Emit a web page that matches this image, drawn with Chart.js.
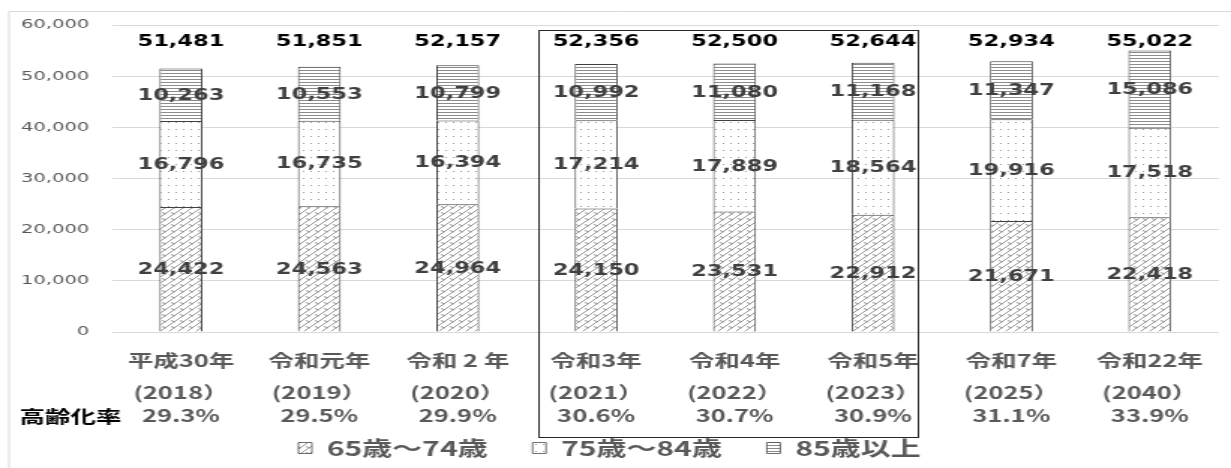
<!DOCTYPE html>
<html>
<head>
<meta charset="utf-8">
<script src="https://cdn.jsdelivr.net/npm/chart.js@4/dist/chart.umd.min.js"></script>
<style>
  html, body { margin: 0; padding: 0; background: #fff; overflow: hidden; }
</style>
</head>
<body>
<!-- the picture is drawn narrow and stretched sideways, like the source image -->
<canvas id="chart" width="821" height="468" style="display:block;width:1231px;height:468px"></canvas>
<script>
// 区分（年度）
const categories = [
    ['平成30年', '(2018）'],
    ['令和元年', '(2019）'],
    ['令和 2 年', '(2020）'],
    ['令和3年', '(2021）'],
    ['令和4年', '(2022）'],
    ['令和5年', '(2023）'],
    ['令和7年', '(2025）'],
    ['令和22年', '(2040）']
];
// 年齢別人数
const age65to74 = [24422, 24563, 24964, 24150, 23531, 22912, 21671, 22418];
const age75to84 = [16796, 16735, 16394, 17214, 17889, 18564, 19916, 17518];
const age85plus = [10263, 10553, 10799, 10992, 11080, 11168, 11347, 15086];
const totals = [51481, 51851, 52157, 52356, 52500, 52644, 52934, 55022];
// 高齢化率
const agingRates = ['29.3%', '29.5%', '29.9%', '30.6%', '30.7%', '30.9%', '31.1%', '33.9%'];
const yTicks = [0, 10000, 20000, 30000, 40000, 50000, 60000];

const GRAY_TEXT = '#595959';
const JP_FONT = '"Noto Sans CJK JP", "Noto Sans", sans-serif';
const NUM_FONT = '"DejaVu Sans", sans-serif';

// 塗りつぶしパターン
function makePattern(w, h, draw) {
    const c = document.createElement('canvas');
    c.width = w;
    c.height = h;
    const g = c.getContext('2d');
    g.fillStyle = '#fff';
    g.fillRect(0, 0, w, h);
    draw(g);
    return g.createPattern(c, 'repeat');
}

const hatchPattern = makePattern(6, 6, g => {
    g.strokeStyle = '#8c8c8c';
    g.lineWidth = 0.9;
    g.beginPath();
    g.moveTo(-1, 7); g.lineTo(7, -1);
    g.moveTo(0, 2.5); g.lineTo(3, 4);
    g.stroke();
});
const dotPattern = makePattern(5, 7, g => {
    g.fillStyle = '#9a9a9a';
    g.fillRect(2, 3, 1, 1);
});
const linePattern = makePattern(4, 3, g => {
    g.fillStyle = '#8c8c8c';
    g.fillRect(0, 1, 4, 1);
});

// 数値ラベル・高齢化率・枠線
const annotatePlugin = {
    id: 'annotate',
    beforeDraw(chart) {
        const ctx = chart.ctx;
        ctx.save();
        ctx.strokeStyle = '#d9d9d9';
        ctx.lineWidth = 1;
        ctx.beginPath();
        ctx.moveTo(6, chart.height);
        ctx.lineTo(6, 11.5);
        ctx.lineTo(chart.width, 11.5);
        ctx.stroke();
        ctx.restore();
    },
    afterDatasetsDraw(chart) {
        const { ctx, scales: { x, y } } = chart;
        ctx.save();
        ctx.textAlign = 'center';
        ctx.textBaseline = 'middle';
        ctx.font = 'bold 15px ' + NUM_FONT;
        ctx.fillStyle = '#404040';
        chart.data.datasets.forEach((ds, di) => {
            chart.getDatasetMeta(di).data.forEach((bar, i) => {
                const p = bar.getProps(['x', 'y', 'base'], true);
                ctx.fillText(ds.data[i].toLocaleString('en-US'), p.x, (p.y + p.base) / 2 + 1);
            });
        });
        ctx.fillStyle = '#000';
        totals.forEach((t, i) => {
            ctx.fillText(t.toLocaleString('en-US'), x.getPixelForValue(i), y.getPixelForValue(56700));
        });
        ctx.restore();
    },
    afterDraw(chart) {
        const { ctx, scales: { x } } = chart;
        const step = x.getPixelForValue(1) - x.getPixelForValue(0);
        ctx.save();
        // 高齢化率の行
        ctx.textBaseline = 'middle';
        ctx.font = 'bold 17px ' + JP_FONT;
        ctx.fillStyle = '#000';
        ctx.textAlign = 'left';
        ctx.fillText('高齢化率', 13, 417);
        ctx.fillStyle = GRAY_TEXT;
        ctx.textAlign = 'center';
        agingRates.forEach((r, i) => ctx.fillText(r, x.getPixelForValue(i), 416));
        // 令和3年〜5年の囲み
        const left = Math.round(x.getPixelForValue(3) - 0.42 * step) + 0.5;
        const right = Math.round(x.getPixelForValue(5) + 0.32 * step) + 0.5;
        ctx.strokeStyle = '#262626';
        ctx.lineWidth = 1;
        ctx.strokeRect(left, 30.5, right - left, 407);
        ctx.restore();
    }
};

const ctx = document.getElementById('chart').getContext('2d');
new Chart(ctx, {
    type: 'bar',
    data: {
        labels: categories,
        datasets: [
            { label: '65歳〜74歳', data: age65to74, backgroundColor: hatchPattern },
            { label: '75歳〜84歳', data: age75to84, backgroundColor: dotPattern },
            { label: '85歳以上', data: age85plus, backgroundColor: linePattern }
        ]
    },
    options: {
        responsive: false,
        devicePixelRatio: 1,
        animation: false,
        layout: { padding: { top: 25, right: 8, bottom: 0, left: 0 } },
        datasets: {
            bar: {
                barPercentage: 0.31,
                categoryPercentage: 1,
                borderColor: '#404040',
                borderWidth: { top: 1, left: 1, right: 1, bottom: 0 },
                borderSkipped: false
            }
        },
        plugins: {
            legend: {
                position: 'bottom',
                labels: {
                    boxWidth: 9,
                    boxHeight: 11,
                    padding: 30,
                    color: GRAY_TEXT,
                    font: { family: JP_FONT, size: 20, weight: 'bold' }
                }
            },
            tooltip: { enabled: false }
        },
        scales: {
            x: {
                stacked: true,
                grid: { display: false },
                border: { display: false },
                ticks: {
                    padding: 5,
                    maxRotation: 0,
                    autoSkip: false,
                    color: GRAY_TEXT,
                    font: { family: JP_FONT, size: 17, weight: 'bold', lineHeight: '32px' }
                },
                afterFit(scale) { scale.height = 76; }
            },
            y: {
                stacked: true,
                min: 0,
                max: 60000,
                afterBuildTicks(scale) { scale.ticks = yTicks.map(v => ({ value: v })); },
                grid: { color: '#d9d9d9', drawTicks: false },
                border: { display: false },
                ticks: {
                    padding: 15,
                    color: GRAY_TEXT,
                    font: { family: NUM_FONT, size: 13 },
                    callback: v => v.toLocaleString('en-US')
                },
                afterFit(scale) { scale.width = 74.5; }
            }
        }
    },
    plugins: [annotatePlugin]
});
</script>
</body>
</html>
